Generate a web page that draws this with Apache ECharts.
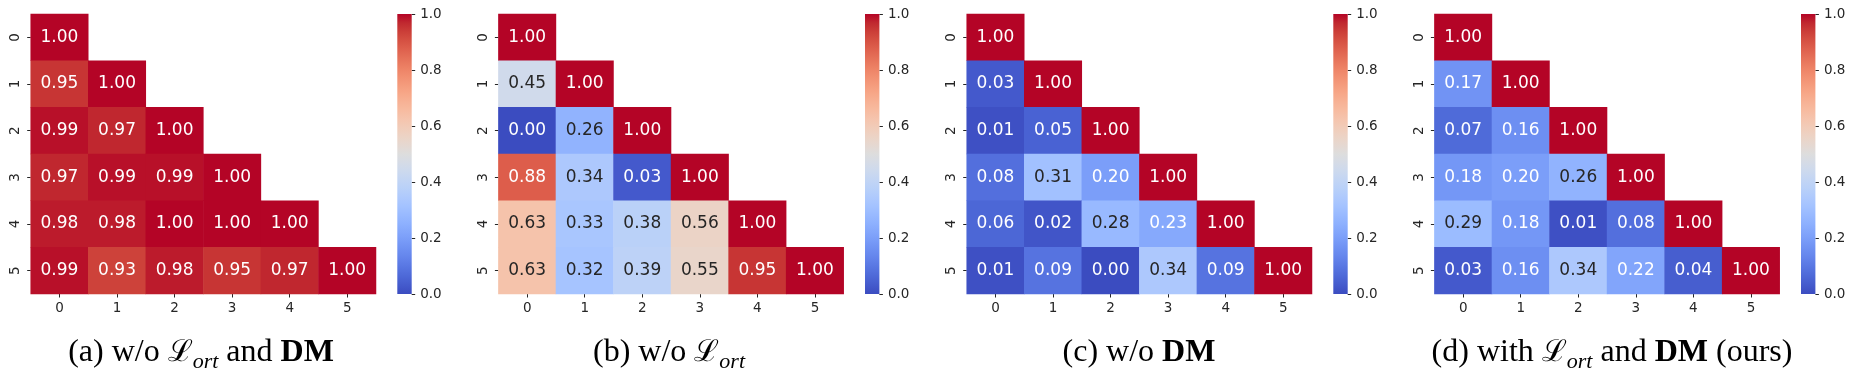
<!DOCTYPE html>
<html>
<head>
<meta charset="utf-8">
<script src="https://cdn.jsdelivr.net/npm/echarts@6/dist/echarts.min.js"></script>
<style>
  html, body { margin: 0; padding: 0; background: #fff; }
  #chart { width: 1853px; height: 377px; }
</style>
</head>
<body>
<div id="chart"></div>
<script>
// ---- data ----
const categories = ['0', '1', '2', '3', '4', '5'];
const colorbarTicks = [0.0, 0.2, 0.4, 0.6, 0.8, 1.0];

// lower-triangular similarity matrices (row i has i+1 values)
const matA = [
  [1.00],
  [0.95, 1.00],
  [0.99, 0.97, 1.00],
  [0.97, 0.99, 0.99, 1.00],
  [0.98, 0.98, 1.00, 1.00, 1.00],
  [0.99, 0.93, 0.98, 0.95, 0.97, 1.00]
];
const matB = [
  [1.00],
  [0.45, 1.00],
  [0.00, 0.26, 1.00],
  [0.88, 0.34, 0.03, 1.00],
  [0.63, 0.33, 0.38, 0.56, 1.00],
  [0.63, 0.32, 0.39, 0.55, 0.95, 1.00]
];
const matC = [
  [1.00],
  [0.03, 1.00],
  [0.01, 0.05, 1.00],
  [0.08, 0.31, 0.20, 1.00],
  [0.06, 0.02, 0.28, 0.23, 1.00],
  [0.01, 0.09, 0.00, 0.34, 0.09, 1.00]
];
const matD = [
  [1.00],
  [0.17, 1.00],
  [0.07, 0.16, 1.00],
  [0.18, 0.20, 0.26, 1.00],
  [0.29, 0.18, 0.01, 0.08, 1.00],
  [0.03, 0.16, 0.34, 0.22, 0.04, 1.00]
];
const captions = [
  '(a) w/o {L|ℒ}{sub|ort} and {b|DM}',
  '(b) w/o {L|ℒ}{sub|ort}',
  '(c) w/o {b|DM}',
  '(d) with {L|ℒ}{sub|ort} and {b|DM} (ours)'
];

// ---- coolwarm colormap (Moreland) ----
const coolwarm = [
  [59,76,192],[68,90,204],[77,104,215],[87,117,225],[98,130,234],[108,142,241],
  [119,154,247],[130,165,251],[141,176,254],[152,185,255],[163,194,255],[174,201,253],
  [184,208,249],[194,213,244],[204,217,238],[213,219,230],[221,221,221],[229,216,209],
  [236,211,197],[241,204,185],[245,196,173],[247,187,160],[247,177,148],[247,166,135],
  [244,154,123],[241,141,111],[236,127,99],[229,112,88],[222,96,77],[213,80,66],
  [203,62,56],[192,40,47],[180,4,38]
];
const toHex = c => '#' + c.map(v => Math.round(v).toString(16).padStart(2, '0')).join('');
const cmColors = coolwarm.map(toHex);
function cmap(v) {
  const t = Math.max(0, Math.min(1, v)) * (coolwarm.length - 1);
  const i = Math.min(Math.floor(t), coolwarm.length - 2);
  const f = t - i;
  return coolwarm[i].map((a, k) => a + (coolwarm[i + 1][k] - a) * f);
}
function textColor(v) {
  const lin = cmap(v).map(c => {
    c /= 255;
    return c <= 0.03928 ? c / 12.92 : Math.pow((c + 0.055) / 1.055, 2.4);
  });
  const lum = 0.2126 * lin[0] + 0.7152 * lin[1] + 0.0722 * lin[2];
  return lum > 0.408 ? '#262626' : '#ffffff';
}

// ---- layout ----
const mats = [matA, matB, matC, matD];
const panelLeft = [30.7, 498.4, 966.7, 1434.4];
const captionX = [201, 669, 1139, 1612];
const gridTop = 14, gridW = 345.3, gridH = 280;
const cbarOffset = 366.6, cbarW = 14.4;

const grids = [], xAxes = [], yAxes = [], series = [], titles = [];
const tickColor = '#262626';
const labelFont = { fontFamily: 'DejaVu Sans', fontSize: 13.5, color: '#262626' };

mats.forEach((m, p) => {
  // heatmap grid
  grids.push({ left: panelLeft[p], top: gridTop, width: gridW, height: gridH });
  const gi = grids.length - 1;
  xAxes.push({
    type: 'category', gridIndex: gi, data: categories, position: 'bottom',
    axisLine: { show: false },
    axisTick: { show: true, alignWithLabel: true, length: 3.5, lineStyle: { color: tickColor, width: 1 } },
    axisLabel: Object.assign({ margin: 7 }, labelFont),
    splitLine: { show: false }
  });
  yAxes.push({
    type: 'category', gridIndex: gi, data: categories, inverse: true, position: 'left',
    axisLine: { show: false },
    axisTick: { show: true, alignWithLabel: true, length: 3.5, lineStyle: { color: tickColor, width: 1 } },
    axisLabel: Object.assign({ margin: 8, rotate: 90 }, labelFont),
    splitLine: { show: false }
  });
  const data = [];
  m.forEach((row, r) => row.forEach((v, c) => {
    data.push({ value: [c, r, v], label: { color: textColor(v) } });
  }));
  series.push({
    type: 'heatmap', xAxisIndex: gi, yAxisIndex: gi, data: data,
    label: {
      show: true, fontFamily: 'DejaVu Sans', fontSize: 17,
      formatter: p2 => p2.value[2].toFixed(2)
    },
    itemStyle: { borderWidth: 0 },
    emphasis: { disabled: true }
  });
});

mats.forEach((m, p) => {
  // colorbar grid
  grids.push({ left: panelLeft[p] + cbarOffset, top: gridTop, width: cbarW, height: gridH });
  const gi = grids.length - 1;
  xAxes.push({
    type: 'category', gridIndex: gi, data: [''], show: false
  });
  yAxes.push({
    type: 'value', gridIndex: gi, min: 0, max: 1, interval: 0.2, position: 'right',
    axisLine: { show: false },
    axisTick: { show: true, length: 3.5, lineStyle: { color: tickColor, width: 1 } },
    axisLabel: Object.assign({ margin: 8.5, formatter: v => v.toFixed(1) }, labelFont),
    splitLine: { show: false }
  });
  series.push({
    type: 'bar', xAxisIndex: gi, yAxisIndex: gi, data: [colorbarTicks[colorbarTicks.length - 1]],
    barWidth: '100%', silent: true,
    itemStyle: {
      color: new echarts.graphic.LinearGradient(0, 1, 0, 0,
        cmColors.map((c, i) => ({ offset: i / (cmColors.length - 1), color: c })))
    }
  });
});

captions.forEach((t, p) => {
  titles.push({
    text: t, left: captionX[p], top: 333, textAlign: 'center', padding: 0,
    textStyle: {
      fontFamily: 'Liberation Serif', fontSize: 32, fontWeight: 'normal', color: '#000', lineHeight: 40,
      rich: {
        L: { fontFamily: 'DejaVu Serif', fontSize: 30, color: '#000', lineHeight: 40 },
        sub: { fontFamily: 'Liberation Serif', fontStyle: 'italic', fontSize: 22, color: '#000', lineHeight: 40, padding: [18, 0, 0, 0] },
        b: { fontFamily: 'Liberation Serif', fontWeight: 'bold', fontSize: 32, color: '#000', lineHeight: 40 }
      }
    }
  });
});

const chart = echarts.init(document.getElementById('chart'), null, { renderer: 'canvas' });
chart.setOption({
  animation: false,
  backgroundColor: '#ffffff',
  title: titles,
  grid: grids,
  xAxis: xAxes,
  yAxis: yAxes,
  visualMap: {
    type: 'continuous', show: false, min: 0, max: 1, dimension: 2,
    seriesIndex: [0, 1, 2, 3],
    inRange: { color: cmColors }
  },
  series: series
});
</script>
</body>
</html>
